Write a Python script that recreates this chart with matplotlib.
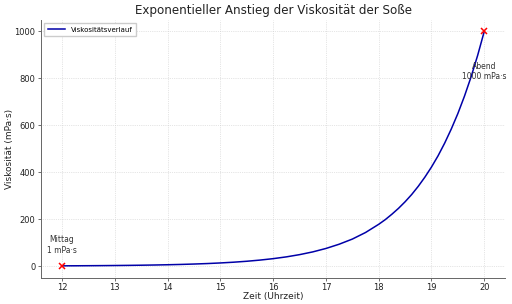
import numpy as np
import matplotlib.pyplot as plt

zeit = [12.0, 12.25, 12.5, 12.75, 13.0, 13.25, 13.5, 13.75, 14.0, 14.25, 14.5, 14.75,
        15.0, 15.25, 15.5, 15.75, 16.0, 16.25, 16.5, 16.75, 17.0, 17.25, 17.5, 17.75,
        18.0, 18.125, 18.25, 18.375, 18.5, 18.625, 18.75, 18.875,
        19.0, 19.125, 19.25, 19.375, 19.5, 19.625, 19.75, 19.875, 20.0]
viskositaet = [1, 1.24, 1.54, 1.91, 2.37, 2.94, 3.65, 4.53, 5.62, 6.98, 8.66, 10.7,
               13.3, 16.5, 20.5, 25.5, 31.6, 39.2, 48.7, 60.4, 75.0, 93.1, 115, 143,
               178, 198, 221, 246, 274, 305, 340, 379,
               422, 470, 524, 584, 650, 724, 806, 898, 1000]

punkte_x = [12, 20]
punkte_y = [1, 1000]
punkte_text = ['Mittag\n1 mPa·s', 'Abend\n1000 mPa·s']

fig, ax = plt.subplots(figsize=(5.12, 3.04), dpi=100)
ax.plot(zeit, viskositaet, color='#0000a8', lw=1.1, label='Viskositätsverlauf')
ax.plot(punkte_x, punkte_y, 'x', color='red', ms=4, mew=1.1)

ax.annotate(punkte_text[0], (punkte_x[0], punkte_y[0]), xytext=(0, 8),
            textcoords='offset points', ha='center', va='bottom', fontsize=5.5, color='#333333')
ax.annotate(punkte_text[1], (punkte_x[1], punkte_y[1]), xytext=(0, -22),
            textcoords='offset points', ha='center', va='top', fontsize=5.5, color='#333333')

ax.set_title('Exponentieller Anstieg der Viskosität der Soße', fontsize=8.6, color='#222222', pad=4)
ax.set_xlabel('Zeit (Uhrzeit)', fontsize=6.5, labelpad=0, color='#222222')
ax.set_ylabel('Viskosität (mPa·s)', fontsize=6.5, labelpad=0, color='#222222')
ax.set_xticks(range(12, 21))
ax.set_yticks(range(0, 1001, 200))
ax.tick_params(labelsize=6, length=2.5, width=0.6, color='#555555', pad=1.5, labelcolor='#222222')
ax.grid(True, ls=':', lw=0.5, color='#cccccc')
for s in ['top', 'right']:
    ax.spines[s].set_visible(False)
for s in ['left', 'bottom']:
    ax.spines[s].set_color('#666666')
    ax.spines[s].set_linewidth(0.7)
ax.legend(loc='upper left', fontsize=5, handlelength=2.5, borderpad=0.5, framealpha=1,
          edgecolor='#cccccc', fancybox=False)

fig.subplots_adjust(left=0.08, right=0.987, top=0.935, bottom=0.087)
fig.savefig('out.png', dpi=100)
